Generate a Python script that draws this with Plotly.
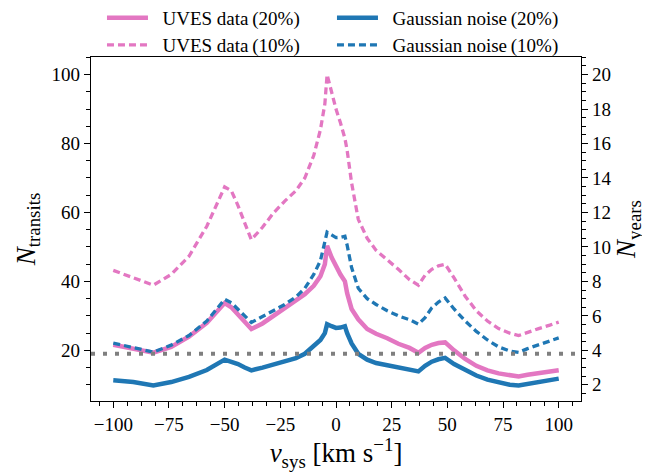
import plotly.graph_objects as go

# ---- data ----
v_sys = [-100, -91, -82, -74, -66, -58, -50, -47, -44, -41, -38, -33, -28, -23, -18, -14,
         -10, -7, -5, -4, -2, 0, 2, 4, 5, 7, 10, 14, 18, 23, 28, 33, 37, 40, 43, 46, 49,
         53, 58, 63, 68, 73, 78, 82, 86, 91, 96, 100]

uves_20 = [21.6, 20.6, 19.3, 21.0, 24.0, 28.0, 33.7, 32.5, 30.5, 28.3, 26.2, 27.8, 30.0, 32.0,
           34.3, 36.3, 38.7, 41.5, 45.0, 50.3, 47.0, 44.4, 42.0, 40.0, 36.6, 32.0, 29.0, 26.2,
           24.8, 23.5, 21.9, 20.7, 19.3, 20.7, 21.6, 22.1, 22.3, 20.0, 17.5, 15.5, 14.2, 13.3,
           12.7, 12.4, 12.9, 13.4, 13.9, 14.2]

uves_10 = [43.2, 41.0, 38.9, 42.0, 47.3, 56.0, 67.4, 66.3, 62.0, 57.0, 52.1, 55.7, 59.9, 63.3,
           66.3, 70.0, 76.5, 84.0, 91.5, 100.0, 95.0, 90.0, 86.0, 81.5, 78.0, 68.6, 58.0, 52.5,
           49.0, 46.3, 43.5, 40.5, 38.9, 41.8, 43.5, 44.5, 45.0, 41.0, 35.7, 31.5, 28.5, 26.3,
           25.0, 24.3, 25.3, 26.3, 27.3, 28.2]

gauss_20 = [11.3, 10.8, 9.8, 10.8, 12.3, 14.3, 17.3, 16.8, 16.0, 15.0, 14.2, 15.0, 16.0, 16.8,
            17.7, 19.0, 21.2, 23.0, 25.0, 27.6, 27.0, 26.5, 26.6, 27.0, 25.0, 22.0, 19.0, 17.3,
            16.3, 15.6, 15.2, 14.3, 13.9, 15.5, 16.7, 17.4, 17.8, 16.0, 14.2, 12.7, 11.5, 10.6,
            10.0, 9.8, 10.3, 10.8, 11.3, 11.8]

gauss_10 = [22.1, 20.8, 19.5, 21.5, 24.3, 28.5, 34.8, 33.8, 32.0, 30.0, 28.1, 29.8, 31.6, 33.3,
            35.5, 38.0, 42.0, 46.0, 51.5, 54.3, 53.5, 52.7, 52.8, 53.1, 50.5, 44.0, 38.0, 35.0,
            33.3, 31.5, 30.0, 28.9, 27.6, 29.5, 32.3, 34.0, 35.2, 32.0, 28.5, 25.5, 23.0, 21.0,
            19.8, 19.4, 20.5, 21.6, 22.7, 23.6]

threshold = 19.0          # horizontal dotted line (N_transits)
transits_per_year = 5.0   # N_years = N_transits / 5

PINK = "#e377c2"
BLUE = "#1f77b4"
FONT = "Liberation Serif"
PAD = "\u00a0\u00a0"

fig = go.Figure()
fig.add_trace(go.Scatter(x=v_sys, y=uves_20, mode="lines", name=PAD + "UVES data\u2009(20%)",
                         legend="legend", line=dict(color=PINK, width=4.5)))
fig.add_trace(go.Scatter(x=v_sys, y=gauss_20, mode="lines", name=PAD + "Gaussian noise\u2009(20%)",
                         legend="legend", line=dict(color=BLUE, width=4.5)))
fig.add_trace(go.Scatter(x=v_sys, y=uves_10, mode="lines", name=PAD + "UVES data\u2009(10%)",
                         legend="legend2", line=dict(color=PINK, width=3.3, dash="7px,4px")))
fig.add_trace(go.Scatter(x=v_sys, y=gauss_10, mode="lines", name=PAD + "Gaussian noise\u2009(10%)",
                         legend="legend2", line=dict(color=BLUE, width=3.3, dash="7px,4px")))
# invisible trace carrying the secondary (years) axis
fig.add_trace(go.Scatter(x=v_sys, y=[u / transits_per_year for u in uves_10], yaxis="y2",
                         mode="lines", line=dict(width=0), opacity=0, showlegend=False,
                         hoverinfo="skip"))

fig.add_shape(type="line", xref="paper", x0=0, x1=1, yref="y", y0=threshold, y1=threshold,
              line=dict(color="#7f7f7f", width=4, dash="4px,8px"), layer="above")

ylo, yhi = 5.3, 105.1
axis_common = dict(showline=True, linecolor="black", linewidth=1.3, ticks="outside",
                   ticklen=6, tickwidth=1.3, tickcolor="black", showgrid=False, zeroline=False,
                   tickfont=dict(family=FONT, size=19, color="black"))

legend_common = dict(orientation="h", xanchor="left", x=0.0224, yanchor="middle",
                     entrywidth=174, entrywidthmode="pixels", traceorder="normal",
                     font=dict(family=FONT, size=19), bgcolor="rgba(0,0,0,0)", itemwidth=41)

# the page body adds an 8px offset, so the figure is 8px smaller than the window
fig.update_layout(
    width=642, height=464,
    margin=dict(l=83, r=69, t=49, b=71, autoexpand=False),
    plot_bgcolor="white", paper_bgcolor="white",
    font=dict(family=FONT, color="black"),
    xaxis=dict(range=[-110, 110], dtick=25, tick0=0, mirror=True,
               minor=dict(dtick=6.25, tick0=0, ticklen=3.5, ticks="outside", tickcolor="black", tickwidth=1),
               title=dict(text="<i>v</i><sub>sys</sub> [km s<sup>\u22121</sup>]",
                          font=dict(family=FONT, size=27), standoff=2),
               **axis_common),
    yaxis=dict(range=[ylo, yhi], dtick=20, tick0=0,
               minor=dict(dtick=5, tick0=0, ticklen=3.5, ticks="outside", tickcolor="black", tickwidth=1),
               title=dict(text="<i>N</i><sub>transits</sub>", font=dict(family=FONT, size=27), standoff=8),
               **axis_common),
    yaxis2=dict(range=[ylo / transits_per_year, yhi / transits_per_year], overlaying="y", side="right",
                dtick=2, tick0=0,
                minor=dict(dtick=0.5, tick0=0, ticklen=3.5, ticks="outside", tickcolor="black", tickwidth=1),
                title=dict(text="<i>N</i><sub>years</sub>", font=dict(family=FONT, size=27), standoff=0),
                **axis_common),
    legend=dict(y=1.1134, **legend_common),
    legend2=dict(y=1.0349, **legend_common),
)

fig.write_html("out.html")
